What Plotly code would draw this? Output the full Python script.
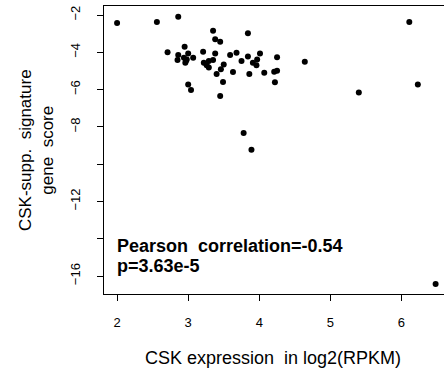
import plotly.graph_objects as go

# Data
csk_expr = [2.00, 2.56, 2.86, 3.35, 3.84, 3.38, 3.45, 2.95, 2.71, 3.21, 2.86, 3.00,
            3.38, 3.59, 3.68, 4.01, 3.84, 2.94, 3.07, 2.85, 2.98, 2.96, 2.97, 3.35,
            3.29, 3.22, 3.26, 3.75, 3.97, 3.91, 3.96, 3.50, 3.29, 3.46, 3.63, 3.40,
            3.86, 4.07, 3.49, 3.00, 3.04, 3.45, 3.78, 3.89, 4.25, 4.64, 4.21, 4.25,
            4.22, 5.40, 6.11, 6.23, 6.48]
gene_score = [-2.43, -2.38, -2.09, -2.84, -2.98, -3.30, -3.43, -3.70, -4.00, -3.97, -4.14, -4.07,
              -4.07, -4.14, -4.02, -4.07, -4.23, -4.29, -4.29, -4.41, -4.38, -4.56, -4.45, -4.41,
              -4.47, -4.56, -4.70, -4.47, -4.38, -4.56, -4.70, -4.65, -4.82, -4.91, -5.06, -5.16,
              -5.16, -5.09, -5.59, -5.72, -6.02, -6.34, -8.33, -9.22, -4.27, -4.50, -5.04, -4.99,
              -5.61, -6.15, -2.38, -5.72, -16.42]

x_ticks = [2, 3, 4, 5, 6]
y_ticks = [-2, -4, -6, -8, -10, -12, -14, -16]
y_ticktext = ["\u22122", "\u22124", "\u22126", "\u22128", "", "\u221212", "", "\u221216"]

x_title = "CSK expression  in log2(RPKM)"
y_title = "CSK-supp.  signature<br>gene  score"
stat_lines = ["Pearson  correlation=-0.54", "p=3.63e-5"]

FONT = "Liberation Sans, Arial, sans-serif"

fig = go.Figure()
fig.add_trace(go.Scatter(
    x=csk_expr, y=gene_score, mode="markers",
    marker=dict(size=6, color="black"),
    hoverinfo="skip", showlegend=False,
))

W, H = 444, 371
L, R, T, B = 104, 0, 6, 77
pw, ph = W - L - R, H - T - B

fig.update_layout(
    width=W, height=H,
    margin=dict(l=L, r=R, t=T, b=B, pad=0),
    plot_bgcolor="white", paper_bgcolor="white",
    font=dict(family=FONT, color="black", size=13),
    xaxis=dict(
        range=[1.816, 1.816 + pw / 71.1],
        tickvals=x_ticks, ticktext=[str(v) for v in x_ticks],
        showgrid=False, zeroline=False,
        showline=True, linecolor="black", linewidth=1, mirror=True,
        ticks="outside", ticklen=6, tickcolor="black",
        tickfont=dict(size=13), ticklabelstandoff=10,
    ),
    yaxis=dict(
        range=[-2 - (294 - 15) / 18.65, -2 + (15 - 6) / 18.65],
        tickvals=y_ticks, ticktext=y_ticktext, tickangle=-90,
        showgrid=False, zeroline=False,
        showline=True, linecolor="black", linewidth=1, mirror=False,
        ticks="outside", ticklen=6, tickcolor="black",
        tickfont=dict(size=13), ticklabelstandoff=12,
    ),
)

def px_x(px):
    return (px - L) / pw

def px_y(py):
    return 1 - (py - T) / ph

annots = [
    dict(text=x_title, xref="paper", yref="paper", x=px_x(273), y=px_y(358),
         xanchor="center", yanchor="middle", showarrow=False,
         font=dict(size=18)),
    dict(text=y_title, xref="paper", yref="paper", x=px_x(36), y=px_y(150),
         xanchor="center", yanchor="middle", showarrow=False, textangle=-90,
         font=dict(size=17)),
    dict(text="<b>" + stat_lines[0] + "</b>", xref="paper", yref="paper",
         x=px_x(115), y=px_y(246), xanchor="left", yanchor="middle",
         showarrow=False, font=dict(size=18)),
    dict(text="<b>" + stat_lines[1] + "</b>", xref="paper", yref="paper",
         x=px_x(115), y=px_y(266), xanchor="left", yanchor="middle",
         showarrow=False, font=dict(size=18)),
]
fig.update_layout(annotations=annots)

fig.write_html("out.html")
